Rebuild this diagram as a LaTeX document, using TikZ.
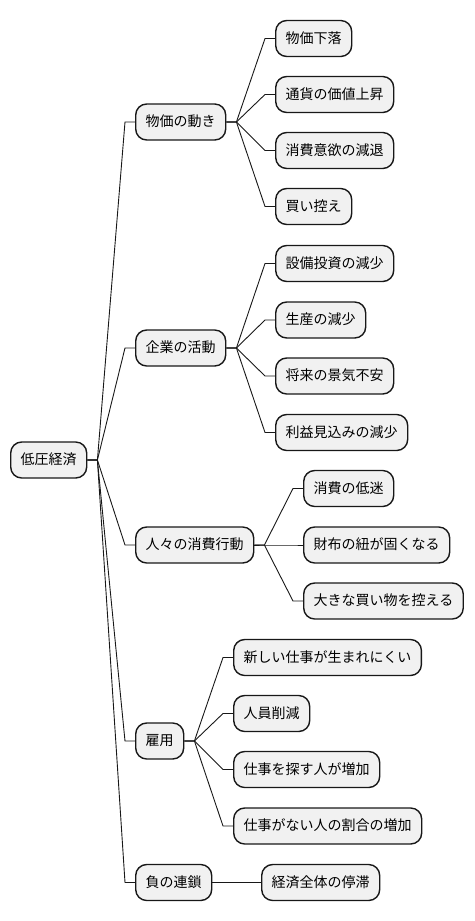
\documentclass[tikz,border=0pt]{standalone}
\usepackage{fontspec}
\setmainfont{Noto Sans CJK JP}
\usetikzlibrary{calc}
\definecolor{boxfill}{HTML}{F1F1F1}
\definecolor{boxline}{HTML}{181818}
\tikzset{
  mmbox/.style={draw=boxline, fill=boxfill, line width=1.4pt, rounded corners=11pt,
    anchor=west, minimum height=36pt, inner xsep=10pt, inner ysep=0pt,
    text height=11.5pt, text depth=2.5pt, font=\fontsize{14pt}{16pt}\selectfont},
  mmconn/.style={draw=boxline, line width=0.9pt}
}
\newcommand\mmlink[2]{%
  \draw[mmconn] (#1.east) -- ($(#1.east)+(10pt,0)$)
    .. controls ($($(#1.east)!0.5!(#2.west)$ |- #1.east)$) and ($($(#1.east)!0.5!(#2.west)$ |- #2.west)$)
    .. ($(#2.west)-(10pt,0)$) -- (#2.west);}
\begin{document}
\begin{tikzpicture}[x=1pt,y=-1pt]
\useasboundingbox (0,0) rectangle (474,921);
\node[mmbox] (root) at (10,460) {低圧経済};
\node[mmbox] (a) at (135,122) {物価の動き};
\node[mmbox] (b) at (135,348) {企業の活動};
\node[mmbox] (c) at (135,545) {人々の消費行動};
\node[mmbox] (d) at (135,741) {雇用};
\node[mmbox] (e) at (135,882.5) {負の連鎖};
\node[mmbox] (a1) at (275,38.5) {物価下落};
\node[mmbox] (a2) at (275,94.5) {通貨の価値上昇};
\node[mmbox] (a3) at (275,150.5) {消費意欲の減退};
\node[mmbox] (a4) at (275,206.5) {買い控え};
\node[mmbox] (b1) at (275,263.5) {設備投資の減少};
\node[mmbox] (b2) at (275,320) {生産の減少};
\node[mmbox] (b3) at (275,376) {将来の景気不安};
\node[mmbox] (b4) at (275,432.5) {利益見込みの減少};
\node[mmbox] (c1) at (303,488.5) {消費の低迷};
\node[mmbox] (c2) at (303,545) {財布の紐が固くなる};
\node[mmbox] (c3) at (303,601) {大きな買い物を控える};
\node[mmbox] (d1) at (233,657.5) {新しい仕事が生まれにくい};
\node[mmbox] (d2) at (233,713.5) {人員削減};
\node[mmbox] (d3) at (233,769.5) {仕事を探す人が増加};
\node[mmbox] (d4) at (233,826) {仕事がない人の割合の増加};
\node[mmbox] (e1) at (261,882.5) {経済全体の停滞};
\foreach \p/\c in {root/a,root/b,root/c,root/d,root/e,a/a1,a/a2,a/a3,a/a4,b/b1,b/b2,b/b3,b/b4,c/c1,c/c2,c/c3,d/d1,d/d2,d/d3,d/d4,e/e1}{\mmlink{\p}{\c}}
\end{tikzpicture}
\end{document}
